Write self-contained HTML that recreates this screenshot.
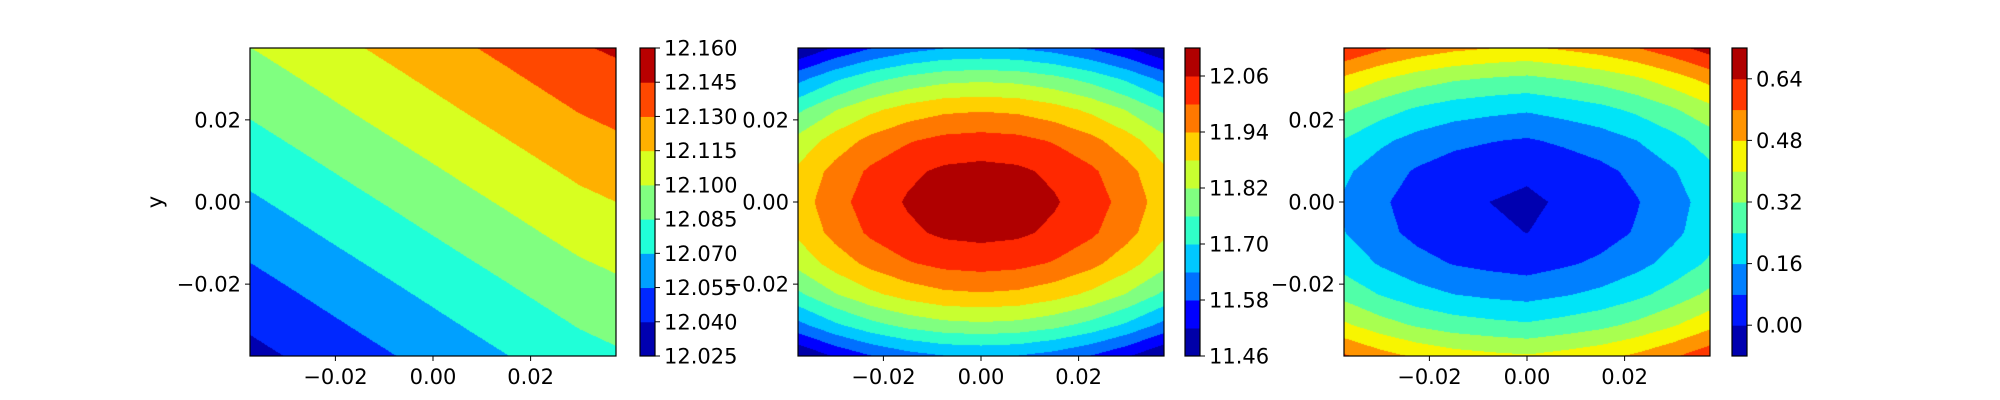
<!DOCTYPE html>
<html><head><meta charset="utf-8"><style>
body{margin:0;background:#fff;width:2000px;height:400px;overflow:hidden;position:relative;font-family:"DejaVu Sans","Liberation Sans",sans-serif}
canvas{position:absolute}
svg{position:absolute;left:0;top:0}
</style></head><body>
<canvas id="c0"></canvas>
<canvas id="c1"></canvas>
<canvas id="c2"></canvas>
<svg id="ov" width="2000" height="400"></svg>
<script>
// grid coordinates (data units)
const gridX = [-0.0375,-0.03,-0.0225,-0.015,-0.0075,0,0.0075,0.015,0.0225,0.03,0.0375];
const gridY = [-0.0375,-0.03,-0.0225,-0.015,-0.0075,0,0.0075,0.015,0.0225,0.03,0.0375];
// plot 1: z = xProfile + yProfile
const xProfile1 = [12.0677,12.0725,12.0774,12.0823,12.0871,12.0920,12.0969,12.1017,12.1066,12.1115,12.1150];
const yProfile1 = [-0.0321,-0.0257,-0.0193,-0.0129,-0.0064,0,0.0064,0.0129,0.0193,0.0257,0.0321];
const levels1 = [12.025,12.040,12.055,12.070,12.085,12.100,12.115,12.130,12.145,12.160];
const colors1 = ['#0000b0','#0028ff','#00a0ff','#20ffd8','#80ff80','#d8ff20','#ffb000','#ff4800','#b80000'];
const cbTicks1 = ['12.025','12.040','12.055','12.070','12.085','12.100','12.115','12.130','12.145','12.160'];
// plot 2
const xProfile2 = [11.910,11.977,12.029,12.066,12.089,12.096,12.089,12.066,12.029,11.977,11.910];
const yProfile2 = [-0.451,-0.289,-0.162,-0.072,-0.018,0,-0.018,-0.072,-0.162,-0.289,-0.451];
const levels2 = [11.46,11.52,11.58,11.64,11.70,11.76,11.82,11.88,11.94,12.00,12.06,12.12];
const colors2 = ['#0000a8','#0000ff','#0070ff','#00c8ff','#30ffc8','#80ff80','#c8ff30','#ffd000','#ff7800','#ff2800','#b00000'];
const cbTicks2 = ['11.46','11.58','11.70','11.82','11.94','12.06'];
// plot 3
const xProfile3 = [0.1504,0.0913,0.0464,0.0157,-0.0009,-0.0130,0.0086,0.0346,0.0748,0.1291,0.1936];
const yProfile3 = [0.4206,0.2644,0.1443,0.0603,0.0123,0.0005,0.0249,0.0853,0.1818,0.3145,0.4832];
const levels3 = [-0.08,0.00,0.08,0.16,0.24,0.32,0.40,0.48,0.56,0.64,0.72];
const colors3 = ['#0000b0','#0018ff','#0080ff','#00e4f8','#50ffa8','#a8ff50','#f8f500','#ff9400','#ff3800','#b00000'];
const cbTicks3 = ['0.00','0.16','0.32','0.48','0.64'];
const axisTicks = [-0.02,0,0.02];

const plots = [
 {id:'c0',left:250,cb:640,xp:xProfile1,yp:yProfile1,lv:levels1,col:colors1,tk:cbTicks1,ylab:true},
 {id:'c1',left:798,cb:1185,xp:xProfile2,yp:yProfile2,lv:levels2,col:colors2,tk:cbTicks2},
 {id:'c2',left:1344,cb:1732,xp:xProfile3,yp:yProfile3,lv:levels3,col:colors3,tk:cbTicks3}
];
const TOP=48, W=366, H=308, CBW=15, XMIN=-0.0375, XMAX=0.0375;
const NS='http://www.w3.org/2000/svg';
const ov=document.getElementById('ov');
function el(tag,attrs,parent){const e=document.createElementNS(NS,tag);for(const k in attrs)e.setAttribute(k,attrs[k]);(parent||ov).appendChild(e);return e;}
function fmt(v){const s=v.toFixed(2);return s.replace('-','\u2212');}
function interp(arr,g,v){
  let i=0;while(i<g.length-2&&v>g[i+1])i++;
  const t=(v-g[i])/(g[i+1]-g[i]);return arr[i]+(arr[i+1]-arr[i])*t;
}
function hex(c){return [parseInt(c.substr(1,2),16),parseInt(c.substr(3,2),16),parseInt(c.substr(5,2),16)];}

plots.forEach((p,pi)=>{
  const xScale=v=>p.left+(v-XMIN)/(XMAX-XMIN)*W;
  const yScale=v=>TOP+(XMAX-v)/(XMAX-XMIN)*H;
  const xInv=px=>XMIN+(px-p.left)/W*(XMAX-XMIN);
  const yInv=py=>XMAX-(py-TOP)/H*(XMAX-XMIN);
  const cv=document.getElementById(p.id);
  cv.width=W;cv.height=H;cv.style.left=p.left+'px';cv.style.top=TOP+'px';
  const ctx=cv.getContext('2d');const img=ctx.createImageData(W,H);
  const rgb=p.col.map(hex);
  const xs=[];for(let i=0;i<W;i++)xs.push(interp(p.xp,gridX,xInv(p.left+i+0.5)));
  for(let j=0;j<H;j++){
    const yv=interp(p.yp,gridY,yInv(TOP+j+0.5));
    for(let i=0;i<W;i++){
      const z=xs[i]+yv;let b=0;
      while(b<p.lv.length-2&&z>p.lv[b+1])b++;
      const c=rgb[b];const o=(j*W+i)*4;
      img.data[o]=c[0];img.data[o+1]=c[1];img.data[o+2]=c[2];img.data[o+3]=255;
    }
  }
  ctx.putImageData(img,0,0);
  const fr=el('rect',{x:p.left,y:TOP,width:W,height:H,fill:'none',stroke:'#000','stroke-width':1.2});
  
  
  axisTicks.forEach(t=>{
    const x=xScale(t);
    const tl=el('line',{x1:x,x2:x,y1:TOP+H,y2:TOP+H+5,stroke:'#000','stroke-width':1});
    
    
    const tx=el('text',{x:x,y:384,'font-size':21,'text-anchor':'middle',fill:'#000'});
    tx.textContent=fmt(t);
    
    
    const y=yScale(t);
    const yl=el('line',{x1:p.left-5,x2:p.left,y1:y,y2:y,stroke:'#000','stroke-width':1});
    
    
    const ty=el('text',{x:p.left-9,y:y+7.5,'font-size':21,'text-anchor':'end',fill:'#000'});
    ty.textContent=fmt(t);
    
    
  });
  const xl=el('text',{x:p.left+W/2,y:414,'font-size':21,'text-anchor':'middle',fill:'#000'});
  xl.textContent='x';
  
  
  if(p.ylab){
    const yt=el('text',{x:0,y:0,'font-size':21,'text-anchor':'middle',fill:'#000',transform:'translate(162,'+(TOP+H/2)+') rotate(-90)'});
    yt.textContent='y';
    
    
  }
  const lo=p.lv[0],hi=p.lv[p.lv.length-1];
  const cScale=v=>TOP+H-(v-lo)/(hi-lo)*H;
  for(let b=0;b<p.lv.length-1;b++){
    const y1=cScale(p.lv[b+1]),y0=cScale(p.lv[b]);
    const r=el('rect',{x:p.cb,y:y1,width:CBW,height:y0-y1+0.5,fill:p.col[b]});
    
    
  }
  const cf=el('rect',{x:p.cb,y:TOP,width:CBW,height:H,fill:'none',stroke:'#000','stroke-width':1.2});
  
  
  p.tk.forEach(s=>{
    const v=parseFloat(s);const y=cScale(v);
    const l=el('line',{x1:p.cb+CBW,x2:p.cb+CBW+5,y1:y,y2:y,stroke:'#000','stroke-width':1});
    
    
    const t=el('text',{x:p.cb+CBW+9,y:y+7.5,'font-size':21,fill:'#000'});
    t.textContent=s;
    
    
  });
});
</script>
</body></html>
